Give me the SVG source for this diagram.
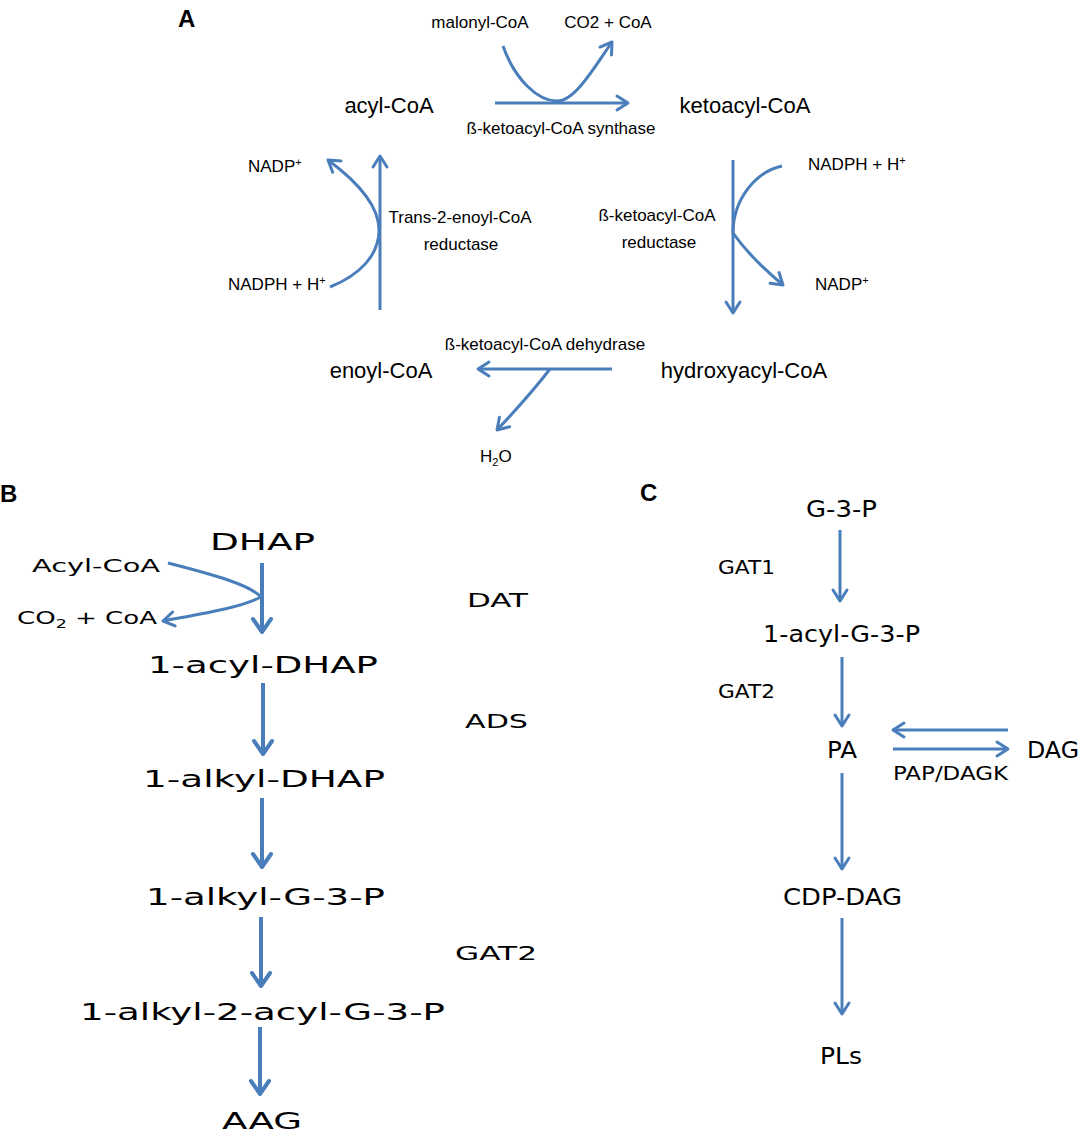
<svg xmlns="http://www.w3.org/2000/svg" width="1080" height="1132" viewBox="0 0 1080 1132">
<style>
.bg{fill:#ffffff}
.a{font-family:"Liberation Sans",Arial,sans-serif;fill:#000}
.big{font-size:22px}
.sm{font-size:17px}
.lab{font-family:"Liberation Sans",Arial,sans-serif;font-weight:bold;font-size:24px;fill:#000}
.g{font-family:"DejaVu Sans","Liberation Sans",sans-serif;fill:#000}
.gb{font-size:23px}
.gs{font-size:18px}
.ge{font-size:20px}
.c3{fill:none;stroke:#4a7ebb;stroke-width:3}
.c4{fill:none;stroke:#4a7ebb;stroke-width:4}
.sup{font-size:11px}
</style>
<defs>
<marker id="ah3" markerUnits="userSpaceOnUse" viewBox="-14 -10 18 20" refX="0" refY="0" markerWidth="18" markerHeight="20" orient="auto" overflow="visible">
<path d="M -11 -7 L 0 0 L -11 7" fill="none" stroke="#4a7ebb" stroke-width="3" stroke-linecap="round" stroke-linejoin="round"/>
</marker>
<marker id="ah4" markerUnits="userSpaceOnUse" viewBox="-16 -12 20 24" refX="0" refY="0" markerWidth="20" markerHeight="24" orient="auto" overflow="visible">
<path d="M -13 -9 L 0 0 L -13 9" fill="none" stroke="#4a7ebb" stroke-width="4" stroke-linecap="round" stroke-linejoin="round"/>
</marker>
</defs>
<rect class="bg" x="0" y="0" width="1080" height="1132"/>

<!-- Panel labels -->
<text class="lab" x="178" y="27">A</text>
<text class="lab" x="0" y="502">B</text>
<text class="lab" x="640" y="501">C</text>

<!-- Panel A nodes -->
<g id="acyl-CoA"><text class="a big" x="389" y="113" text-anchor="middle">acyl-CoA</text></g>
<g id="ketoacyl-CoA"><text class="a big" x="745" y="113" text-anchor="middle">ketoacyl-CoA</text></g>
<g id="enoyl-CoA"><text class="a big" x="381" y="378" text-anchor="middle">enoyl-CoA</text></g>
<g id="hydroxyacyl-CoA"><text class="a big" x="744" y="378" text-anchor="middle">hydroxyacyl-CoA</text></g>
<g id="malonyl-CoA"><text class="a sm" x="480" y="28" text-anchor="middle">malonyl-CoA</text></g>
<g id="co2-coa-a"><text class="a sm" x="608" y="28" text-anchor="middle">CO2 + CoA</text></g>
<g id="synthase"><text class="a sm" x="561" y="134" text-anchor="middle">ß-ketoacyl-CoA synthase</text></g>
<g id="nadp-left"><text class="a sm" x="248" y="172">NADP<tspan class="sup" dy="-6">+</tspan></text></g>
<g id="nadph-left"><text class="a sm" x="228" y="290">NADPH + H<tspan class="sup" dy="-6">+</tspan></text></g>
<g id="enoyl-reductase"><text class="a sm" x="460" y="223" text-anchor="middle">Trans-2-enoyl-CoA</text><text class="a sm" x="461" y="250" text-anchor="middle">reductase</text></g>
<g id="nadph-right"><text class="a sm" x="808" y="170">NADPH + H<tspan class="sup" dy="-6">+</tspan></text></g>
<g id="nadp-right"><text class="a sm" x="815" y="290">NADP<tspan class="sup" dy="-6">+</tspan></text></g>
<g id="keto-reductase"><text class="a sm" x="657" y="221" text-anchor="middle">ß-ketoacyl-CoA</text><text class="a sm" x="659" y="248" text-anchor="middle">reductase</text></g>
<g id="dehydrase"><text class="a sm" x="545" y="350" text-anchor="middle">ß-ketoacyl-CoA dehydrase</text></g>
<g id="h2o"><text class="a sm" x="480" y="462">H<tspan class="sup" dy="4">2</tspan><tspan dy="-4">O</tspan></text></g>

<!-- Panel B nodes -->
<g id="DHAP"><text class="g gb" x="210" y="550" textLength="105" lengthAdjust="spacingAndGlyphs">DHAP</text></g>
<g id="acyl-coa-b"><text class="g gs" x="32" y="572" textLength="128" lengthAdjust="spacingAndGlyphs">Acyl-CoA</text></g>
<g id="co2-coa-b"><text class="g gs" x="17" y="624" textLength="140" lengthAdjust="spacingAndGlyphs">CO<tspan font-size="12" dy="4">2</tspan><tspan dy="-4"> + CoA</tspan></text></g>
<g id="DAT"><text class="g ge" x="467" y="607" textLength="61" lengthAdjust="spacingAndGlyphs">DAT</text></g>
<g id="1-acyl-DHAP"><text class="g gb" x="148" y="673" textLength="230" lengthAdjust="spacingAndGlyphs">1-acyl-DHAP</text></g>
<g id="ADS"><text class="g ge" x="465" y="728" textLength="63" lengthAdjust="spacingAndGlyphs">ADS</text></g>
<g id="1-alkyl-DHAP"><text class="g gb" x="143" y="787" textLength="242" lengthAdjust="spacingAndGlyphs">1-alkyl-DHAP</text></g>
<g id="1-alkyl-G-3-P"><text class="g gb" x="146" y="905" textLength="239" lengthAdjust="spacingAndGlyphs">1-alkyl-G-3-P</text></g>
<g id="GAT2-b"><text class="g ge" x="455" y="960" textLength="82" lengthAdjust="spacingAndGlyphs">GAT2</text></g>
<g id="1-alkyl-2-acyl-G-3-P"><text class="g gb" x="80" y="1020" textLength="365" lengthAdjust="spacingAndGlyphs">1-alkyl-2-acyl-G-3-P</text></g>
<g id="AAG"><text class="g gb" x="222" y="1129" textLength="80" lengthAdjust="spacingAndGlyphs">AAG</text></g>

<!-- Panel C nodes -->
<g id="G-3-P"><text class="g gb" x="806" y="517" textLength="71" lengthAdjust="spacingAndGlyphs">G-3-P</text></g>
<g id="GAT1"><text class="g ge" x="718" y="574" textLength="57" lengthAdjust="spacingAndGlyphs">GAT1</text></g>
<g id="1-acyl-G-3-P"><text class="g gb" x="763" y="642" textLength="157" lengthAdjust="spacingAndGlyphs">1-acyl-G-3-P</text></g>
<g id="GAT2-c"><text class="g ge" x="718" y="698" textLength="57" lengthAdjust="spacingAndGlyphs">GAT2</text></g>
<g id="PA"><text class="g gb" x="827" y="758" textLength="30" lengthAdjust="spacingAndGlyphs">PA</text></g>
<g id="DAG"><text class="g gb" x="1027" y="758" textLength="52" lengthAdjust="spacingAndGlyphs">DAG</text></g>
<g id="PAP-DAGK"><text class="g ge" x="893" y="780" textLength="115" lengthAdjust="spacingAndGlyphs">PAP/DAGK</text></g>
<g id="CDP-DAG"><text class="g gb" x="783" y="905" textLength="119" lengthAdjust="spacingAndGlyphs">CDP-DAG</text></g>
<g id="PLs"><text class="g gb" x="820" y="1064" textLength="42" lengthAdjust="spacingAndGlyphs">PLs</text></g>

<!-- Connectors -->
<g id="connectors">
<!-- Panel A -->
<path class="c3" d="M 495 103 L 628 103" marker-end="url(#ah3)"/>
<path class="c3" d="M 503 46 C 515 80, 538 101, 557 101 C 575 101, 594 68, 612 42" marker-end="url(#ah3)"/>
<path class="c3" d="M 733 160 L 733 313" marker-end="url(#ah3)"/>
<path class="c3" d="M 782 166 C 755 172, 733 200, 733 233 C 745 250, 765 270, 783 285" marker-end="url(#ah3)"/>
<path class="c3" d="M 612 369 L 478 369" marker-end="url(#ah3)"/>
<path class="c3" d="M 550 369 Q 530 395 497 430" marker-end="url(#ah3)"/>
<path class="c3" d="M 380 310 L 380 156" marker-end="url(#ah3)"/>
<path class="c3" d="M 330 287 C 360 275, 379 255, 379 230 C 379 205, 355 180, 328 160" marker-end="url(#ah3)"/>
<!-- Panel B -->
<path class="c4" d="M 262 563 L 262 632" marker-end="url(#ah4)"/>
<path class="c3" d="M 168 563 C 215 575, 250 585, 261 597 C 240 608, 200 614, 163 621" marker-end="url(#ah3)"/>
<path class="c4" d="M 263 683 L 263 754" marker-end="url(#ah4)"/>
<path class="c4" d="M 262 798 L 262 867" marker-end="url(#ah4)"/>
<path class="c4" d="M 261 917 L 261 986" marker-end="url(#ah4)"/>
<path class="c4" d="M 260 1027 L 260 1094" marker-end="url(#ah4)"/>
<!-- Panel C -->
<path class="c3" d="M 840 530 L 840 601" marker-end="url(#ah3)"/>
<path class="c3" d="M 842 657 L 842 726" marker-end="url(#ah3)"/>
<path class="c3" d="M 1008 730 L 893 730" marker-end="url(#ah3)"/>
<path class="c3" d="M 893 749 L 1008 749" marker-end="url(#ah3)"/>
<path class="c3" d="M 842 773 L 842 869" marker-end="url(#ah3)"/>
<path class="c3" d="M 842 918 L 842 1014" marker-end="url(#ah3)"/>
</g>
</svg>
